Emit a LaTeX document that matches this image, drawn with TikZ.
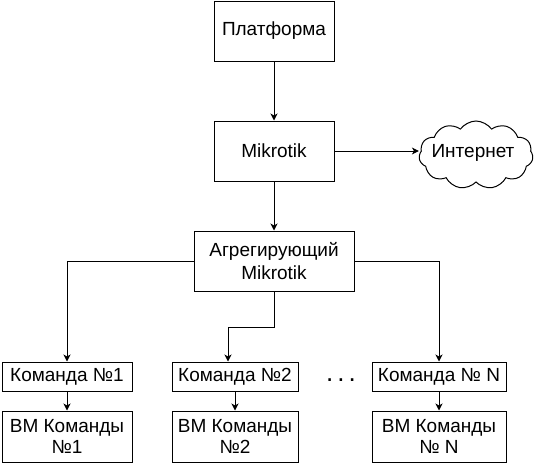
\documentclass[tikz,border=0pt]{standalone}
\usepackage{fontspec}
\setmainfont{Liberation Sans}
\usetikzlibrary{arrows.meta,shapes.symbols}
\begin{document}
\begin{tikzpicture}[x=1pt,y=-1pt,
  txt/.style={font=\fontsize{19}{21}\selectfont},
  box/.style={draw,line width=1pt,inner sep=0pt,align=center,txt},
  conn/.style={line width=1pt,-{Stealth[length=7pt,width=7pt,inset=2pt]}}]
\useasboundingbox (0,0) rectangle (536,463);
\node[box,minimum width=120pt,minimum height=60pt] (plat) at (274,31) {Платформа};
\node[box,minimum width=120pt,minimum height=60pt] (mik) at (274,151) {Mikrotik};
\node[draw,line width=1pt,cloud,cloud puffs=11,cloud puff arc=110,aspect=1.8,minimum width=114pt,minimum height=68pt,inner sep=0pt] (net) at (476,155) {};
\node[txt] (nettext) at (473,153) {Интернет};
\node[box,minimum width=160pt,minimum height=60pt,font=\fontsize{19}{23}\selectfont] (agg) at (274,261) {Агрегирующий\\Mikrotik};
\node[box,minimum width=130pt,minimum height=29pt] (t1) at (67,376.5) {Команда №1};
\node[box,minimum width=126pt,minimum height=29pt] (t2) at (235,376.5) {Команда №2};
\node[box,minimum width=134pt,minimum height=29pt] (tn) at (439,376.5) {Команда № N};
\node[box,minimum width=130pt,minimum height=51pt] (v1) at (67,436.5) {ВМ Команды\\№1};
\node[box,minimum width=126pt,minimum height=51pt] (v2) at (235,436.5) {ВМ Команды\\№2};
\node[box,minimum width=134pt,minimum height=51pt] (vn) at (439,436.5) {ВМ Команды\\№ N};
\node[font=\fontsize{26}{26}\selectfont] (dots) at (341,380) {.\hspace{4pt}.\hspace{4pt}.};
\coordinate (bend) at (274,327);
\draw[conn] (plat) -- (mik);
\draw[conn] (mik.east) -- (mik.east -| net.west);
\draw[conn] (mik) -- (agg);
\draw[conn] (agg.west) -| (t1.north);
\draw[conn] (agg.east) -| (tn.north);
\draw[conn] (agg.south) -- (bend) -| ([xshift=-7pt]t2.north);
\draw[conn] (t1) -- (v1);
\draw[conn] (t2) -- (v2);
\draw[conn] (tn) -- (vn);
\end{tikzpicture}
\end{document}
